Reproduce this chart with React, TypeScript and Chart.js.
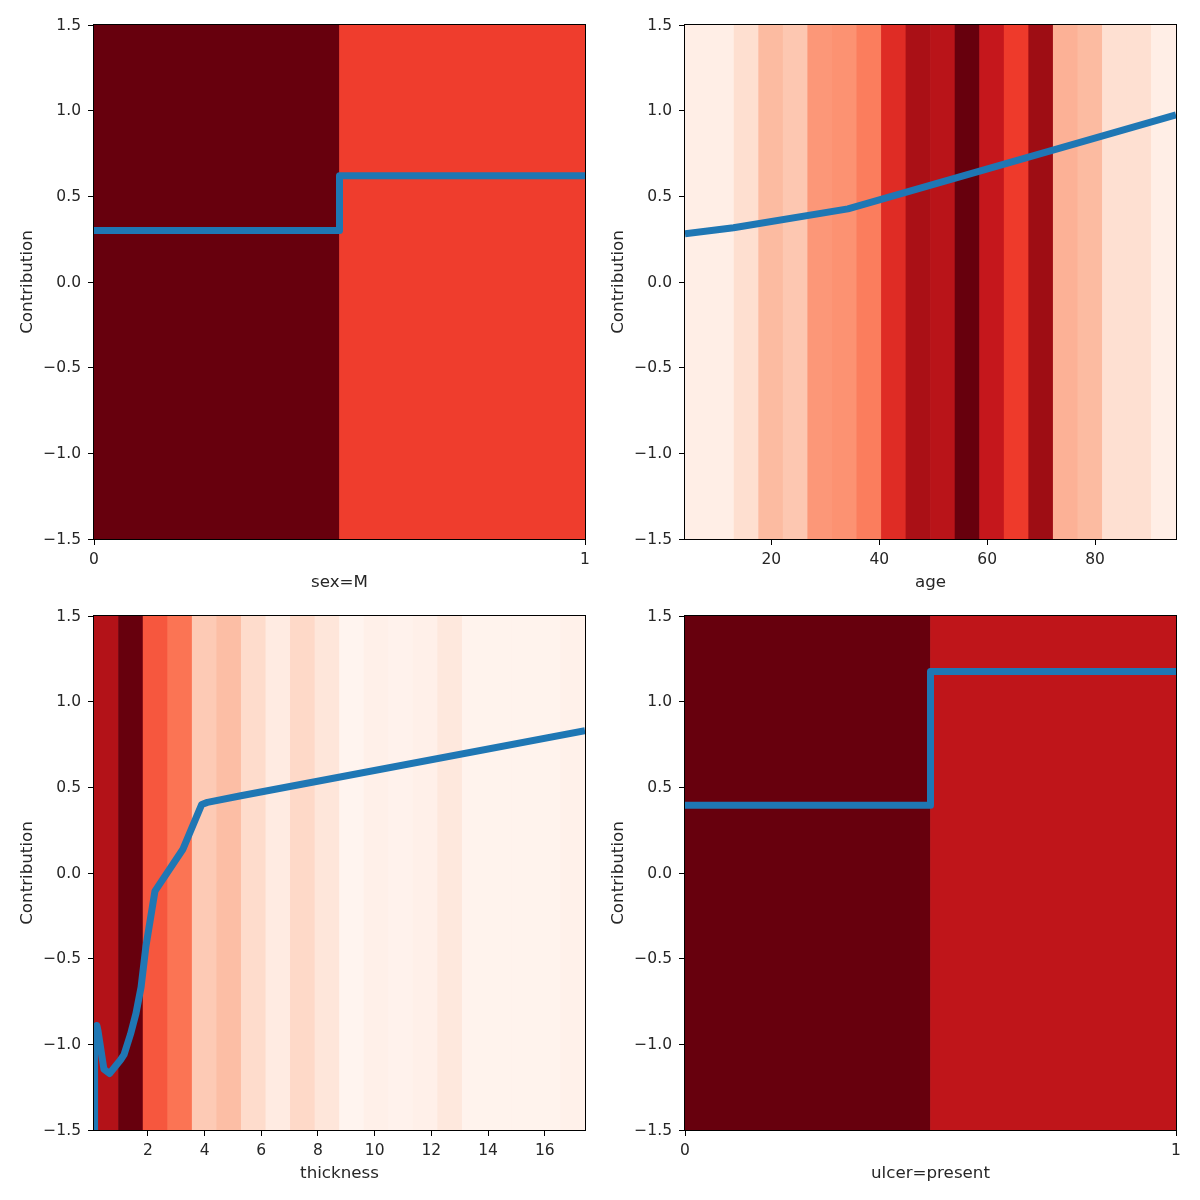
import { useEffect, useRef } from "react"
import { Chart, registerables } from "chart.js"

Chart.register(...registerables)

const yTicks = [-1.5, -1.0, -0.5, 0.0, 0.5, 1.0, 1.5]

// sex=M
const sexBands = [1.0, 0.62]
const sexX = [0, 0.5, 0.5, 1]
const sexY = [0.3, 0.3, 0.62, 0.62]
const sexTicks = [0, 1]

// age
const ageBands = [0.04, 0.04, 0.13, 0.25, 0.21, 0.36, 0.375, 0.44, 0.68, 0.86, 0.81, 1.0, 0.77, 0.63, 0.89, 0.28, 0.25, 0.125, 0.125, 0.04]
const ageX = [4, 13, 34.2, 95]
const ageY = [0.282, 0.317, 0.427, 0.975]
const ageTicks = [20, 40, 60, 80]

// thickness
const thicknessBands = [0.83, 1.0, 0.55, 0.47, 0.2, 0.24, 0.14, 0.06, 0.15, 0.09, 0.005, 0.03, 0.015, 0.03, 0.08, 0.012, 0.012, 0.012, 0.012, 0.025]
const thicknessX = [0.1, 0.12, 0.2, 0.24, 0.45, 0.65, 1.04, 1.16, 1.39, 1.58, 1.76, 1.93, 2.25, 3.23, 3.9, 4.1, 5.28, 17.42]
const thicknessY = [-1.5, -1.0, -0.89, -0.92, -1.145, -1.17, -1.09, -1.06, -0.94, -0.82, -0.667, -0.43, -0.106, 0.137, 0.4, 0.412, 0.451, 0.83]
const thicknessTicks = [2, 4, 6, 8, 10, 12, 14, 16]

// ulcer=present
const ulcerBands = [1.0, 0.79]
const ulcerX = [0, 0.5, 0.5, 1]
const ulcerY = [0.395, 0.395, 1.176, 1.176]
const ulcerTicks = [0, 1]

// matplotlib "Reds" colormap stops
const reds = [
  [255, 245, 240], [254, 224, 210], [252, 187, 161], [252, 146, 114], [251, 106, 74],
  [239, 59, 44], [203, 24, 29], [165, 15, 21], [103, 0, 13],
]

const redsColor = (v: number) => {
  const p = Math.min(v, 0.9999) * (reds.length - 1)
  const i = Math.floor(p)
  const t = p - i
  const c = reds[i].map((a, k) => Math.round(a + (reds[i + 1][k] - a) * t))
  return `rgb(${c[0]}, ${c[1]}, ${c[2]})`
}

const fontFamily = "'DejaVu Sans'"
const textColor = "#262626"

const frame = {
  id: "frame",
  afterDraw(chart: Chart) {
    const { ctx, chartArea } = chart
    ctx.save()
    ctx.strokeStyle = "#000"
    ctx.lineWidth = 1
    ctx.strokeRect(chartArea.left - 0.5, chartArea.top - 0.5, chartArea.right - chartArea.left + 1, chartArea.bottom - chartArea.top + 1)
    ctx.restore()
  },
}

interface PanelProps {
  left: number
  top: number
  label: string
  bands: number[]
  xs: number[]
  ys: number[]
  ticks: number[]
  xMin: number
  xMax: number
}

function Panel({ left, top, label, bands, xs, ys, ticks, xMin, xMax }: PanelProps) {
  const chartRef = useRef<HTMLCanvasElement>(null)

  useEffect(() => {
    if (!chartRef.current) return

    const chart = new Chart(chartRef.current, {
      type: "bar",
      data: {
        labels: bands.map((_, i) => String(i)),
        datasets: [
          {
            type: "line",
            xAxisID: "xv",
            yAxisID: "y",
            data: xs.map((x, i) => ({ x, y: ys[i] })),
            borderColor: "#1f77b4",
            borderWidth: 7,
            borderJoinStyle: "round",
            pointRadius: 0,
            tension: 0,
            clip: 0,
            order: 0,
          },
          {
            type: "bar",
            xAxisID: "x",
            yAxisID: "y",
            data: bands.map(() => [-1.5, 1.5]),
            backgroundColor: bands.map(redsColor),
            borderWidth: 0,
            barPercentage: 1,
            categoryPercentage: 1,
            grouped: false,
            order: 1,
          },
        ],
      } as any,
      options: {
        animation: false,
        responsive: false,
        layout: { padding: { top: 25, right: 15, bottom: 0, left: 0 } },
        plugins: { legend: { display: false }, tooltip: { enabled: false } },
        scales: {
          x: { type: "category", display: false },
          xv: {
            type: "linear",
            position: "bottom",
            offset: false,
            min: xMin,
            max: xMax,
            afterBuildTicks: (scale: any) => {
              scale.ticks = ticks.map((value) => ({ value }))
            },
            afterFit: (scale: any) => {
              scale.height = 61
            },
            border: { display: false },
            grid: { offset: false, drawOnChartArea: false, tickLength: 6, tickColor: "#000", tickWidth: 1 },
            ticks: {
              autoSkip: false,
              maxRotation: 0,
              padding: 6,
              color: textColor,
              font: { family: fontFamily, size: 15.5 },
              callback: (v: any) => String(v),
            },
            title: {
              display: true,
              text: label,
              color: textColor,
              font: { family: fontFamily, size: 16.7 },
              padding: { top: 0, bottom: 7 },
            },
          },
          y: {
            type: "linear",
            min: -1.5,
            max: 1.5,
            afterBuildTicks: (scale: any) => {
              scale.ticks = yTicks.map((value) => ({ value }))
            },
            afterFit: (scale: any) => {
              scale.width = 94
            },
            border: { display: false },
            grid: { drawOnChartArea: false, tickLength: 6, tickColor: "#000", tickWidth: 1 },
            ticks: {
              padding: 7,
              labelOffset: 0.5,
              color: textColor,
              font: { family: fontFamily, size: 15.5 },
              callback: (v: any) => Number(v).toFixed(1).replace("-", "\u2212"),
            },
            title: {
              display: true,
              text: "Contribution",
              color: textColor,
              font: { family: fontFamily, size: 16.7 },
              padding: { top: 18, bottom: 0 },
            },
          },
        },
      } as any,
      plugins: [frame],
    })

    return () => chart.destroy()
  }, [bands, xs, ys, ticks, xMin, xMax, label])

  return (
    <div style={{ position: "absolute", left, top, width: 600, height: 600 }}>
      <canvas ref={chartRef} width={600} height={600} />
    </div>
  )
}

export default function App() {
  return (
    <div style={{ position: "absolute", left: 0, top: 0, width: 1200, height: 1200, background: "#fff" }}>
      <Panel left={0} top={0} label="sex=M" bands={sexBands} xs={sexX} ys={sexY} ticks={sexTicks} xMin={0} xMax={1} />
      <Panel left={591} top={0} label="age" bands={ageBands} xs={ageX} ys={ageY} ticks={ageTicks} xMin={4} xMax={95} />
      <Panel left={0} top={591} label="thickness" bands={thicknessBands} xs={thicknessX} ys={thicknessY} ticks={thicknessTicks} xMin={0.1} xMax={17.42} />
      <Panel left={591} top={591} label="ulcer=present" bands={ulcerBands} xs={ulcerX} ys={ulcerY} ticks={ulcerTicks} xMin={0} xMax={1} />
    </div>
  )
}
